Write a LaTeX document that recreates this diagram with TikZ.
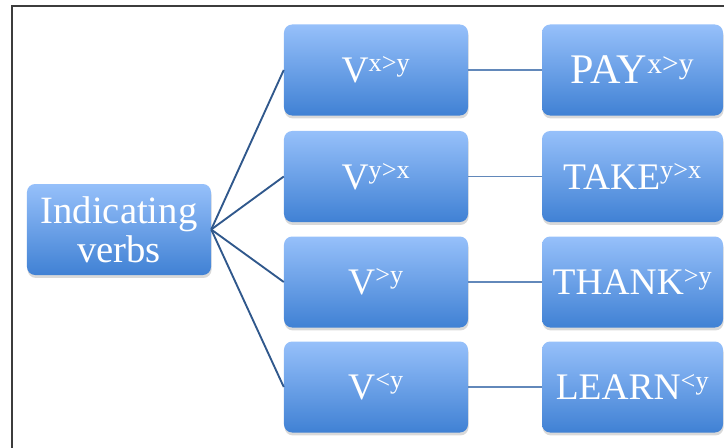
\documentclass[tikz,border=0pt]{standalone}
\usepackage{fontspec}
\setmainfont{Liberation Serif}
\usetikzlibrary{shadows}
\definecolor{skytop}{RGB}{150,192,250}
\definecolor{skymid}{RGB}{124,174,242}
\definecolor{skybot}{RGB}{64,129,212}
\definecolor{navy}{RGB}{48,88,140}
\definecolor{steel}{RGB}{98,136,186}
\definecolor{frame}{RGB}{60,60,60}
\tikzset{
  vbox/.style={rounded corners=7pt,inner sep=0pt,text=white,align=center,
    top color=skytop,middle color=skymid,bottom color=skybot,
    minimum height=2.73cm,minimum width=5.52cm,
    font=\fontsize{32}{34}\selectfont,
    drop shadow={shadow xshift=0.5pt,shadow yshift=-2.5pt,opacity=0.3}},
  fan/.style={draw=navy,line width=1.6pt},
  link/.style={draw=steel,line width=1.1pt},
}

\begin{document}
\begin{tikzpicture}[x=0.03cm,y=-0.03cm]
  \useasboundingbox (0,0) rectangle (724,448);
  \clip (0,0) rectangle (724,448);
  \draw[frame,line width=1.3pt] (12,6) rectangle (760,480);
  % root
  \node[vbox,font=\fontsize{33}{33}\selectfont] (ind) at (119,229.5) {Indicating\\verbs};
  % verb columns
  \foreach \n/\y/\v/\w/\f in {1/70/x>y/PAY\textsuperscript{x>y}/36,
      2/176.5/y>x/TAKE\textsuperscript{y>x}/32,
      3/282/>y/THANK\textsuperscript{>y}/32,
      4/387/<y/LEARN\textsuperscript{<y}/32}{
    \node[vbox] (v\n) at (376,\y) {V\textsuperscript{\v}};
    \node[vbox,minimum width=5.43cm,font=\fontsize{\f}{\f}\selectfont] (w\n) at (632.5,\y) {\w};
    \draw[fan] (ind.east) -- (v\n.west);
    \draw[link] (v\n.east) -- (w\n.west);
  }
\end{tikzpicture}
\end{document}
